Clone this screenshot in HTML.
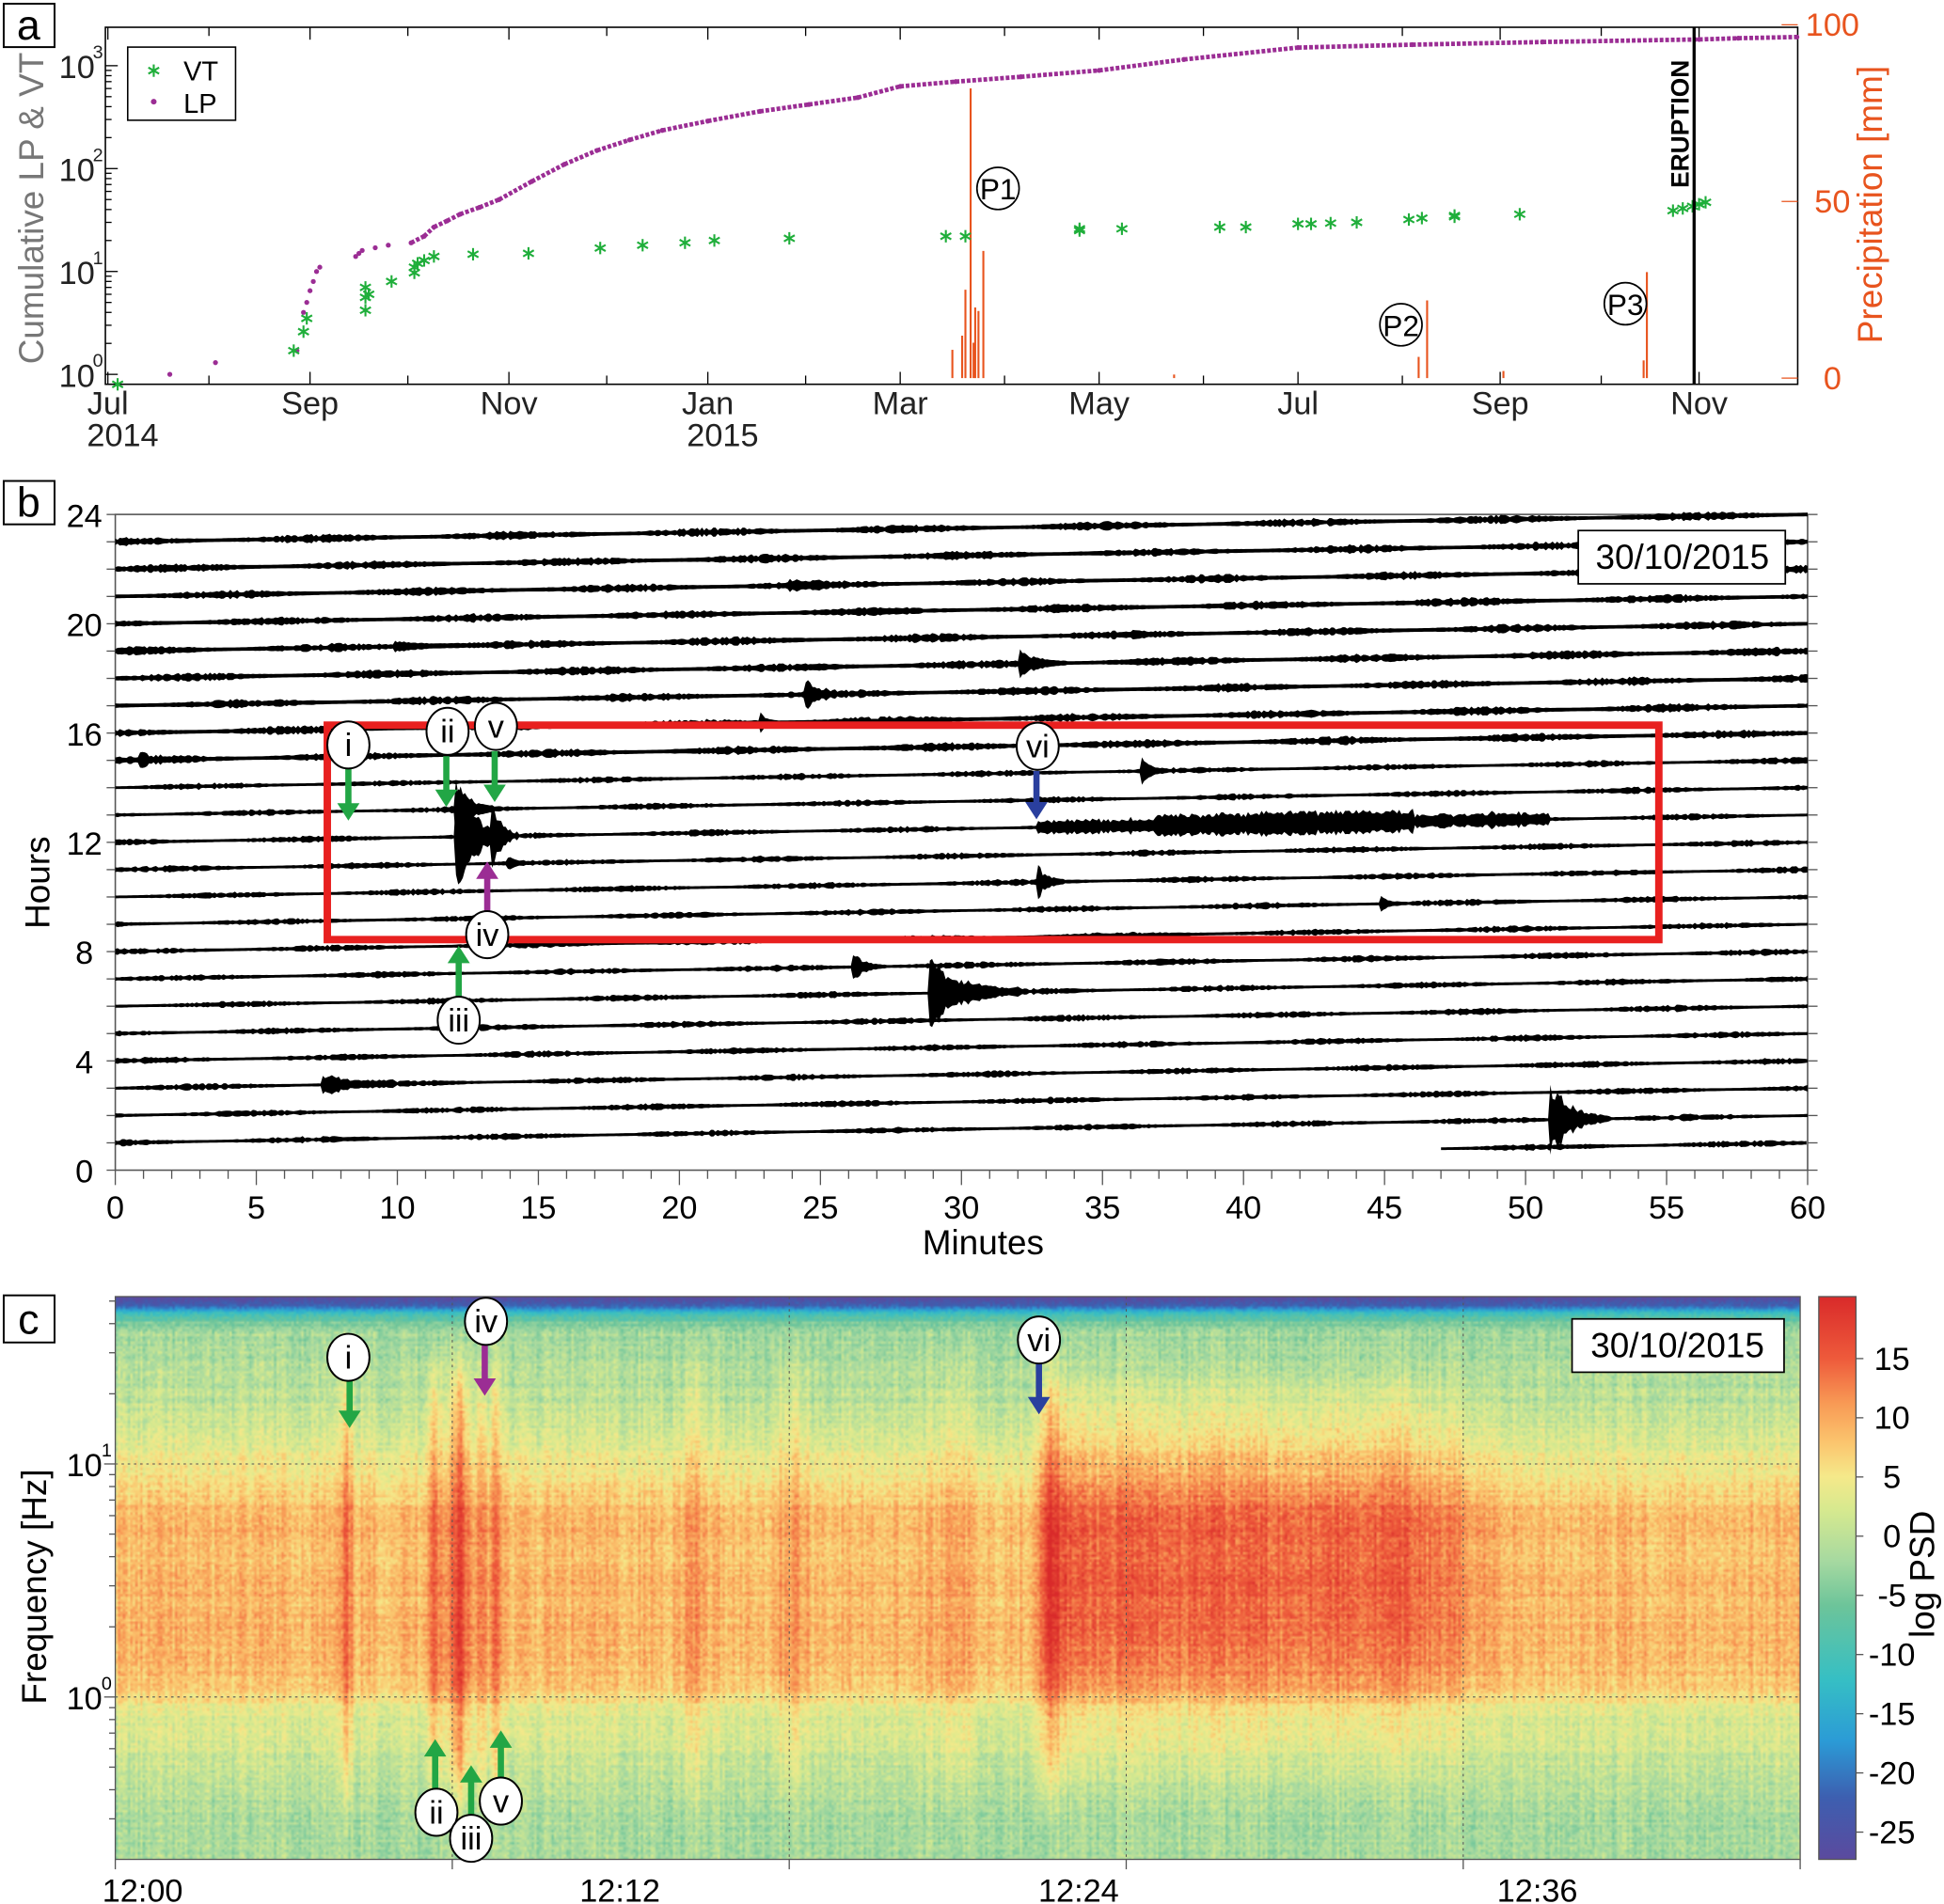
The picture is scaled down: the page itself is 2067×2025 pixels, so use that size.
<!DOCTYPE html>
<html><head><meta charset="utf-8">
<style>
html,body{margin:0;padding:0;background:#fff;}
body{width:2067px;height:2025px;overflow:hidden;position:relative;}
#wrap{position:absolute;left:0;top:0;width:1568px;height:1536px;transform:scale(1.31824,1.31836);transform-origin:0 0;}
#spec{position:absolute;left:93px;top:1046px;width:1359px;height:454px;}
#svg{position:absolute;left:0;top:0;}
text{font-family:"Liberation Sans",sans-serif;}
</style></head>
<body>
<div id="wrap">
<canvas id="spec" width="680" height="227"></canvas>
<svg id="svg" width="1568" height="1536" viewBox="0 0 1568 1536">
<defs>
<linearGradient id="cbar" x1="0" y1="1" x2="0" y2="0">
<stop offset="0" stop-color="#5b4a9e"/><stop offset="0.11" stop-color="#3d5fb0"/><stop offset="0.21" stop-color="#2b9bd6"/><stop offset="0.32" stop-color="#36bfc4"/><stop offset="0.45" stop-color="#6cc49a"/><stop offset="0.53" stop-color="#a6d9a0"/><stop offset="0.62" stop-color="#d6e98f"/><stop offset="0.68" stop-color="#f5e98a"/><stop offset="0.74" stop-color="#fbc56e"/><stop offset="0.81" stop-color="#f89a55"/><stop offset="0.89" stop-color="#ee5a3b"/><stop offset="1" stop-color="#d92a2a"/>
</linearGradient>
</defs>
<g id="pa"></g>
<g id="pb"></g>
<g id="pc"></g>
</svg>
</div>
<script>
// ===== Panel a data =====
const lpDays=[19,33,58,60,61,62,63,64,65,76,77,78,82,86,93,97,100,104,108,114,120,130,140,150,160,170,184,200,215,230,243,260,280,304,330,365,400,440,488,500,518];
const lpCounts=[1,1.3,1.7,4,5,6.5,8,10,11,14,15,16,17,18,19,22,27,31,36,42,50,75,110,150,190,235,290,360,420,490,630,700,780,900,1150,1500,1600,1700,1800,1850,1900];
const vtDays=[3,57,60,61,79,79,79,80,87,94,94,95,97,100,112,129,151,164,177,186,209,257,263,298,298,311,341,349,365,369,375,383,399,403,413,413,433,480,483,486,488,490];
const vtCounts=[0.8,1.7,2.6,3.5,4.2,5.6,7,6,8,9.7,11,12,12.8,14,14.7,15,16.9,18,19,20,21,22,22,25,26,26,27,27,29,29,29.5,30,32,33,34,35,36,39,41,43,45,47];
const rainDays=[259,262,263,264.6,265.5,266,267,268.5,327,402,404.6,428,471,472];
const rainMm=[8,12,25,82,10,20,19,36,1,6,22,2,5,30];
const monthLabels=["Jul","Sep","Nov","Jan","Mar","May","Jul","Sep","Nov"];
const monthDays=[0,62,123,184,243,304,365,427,488];
const yearLabels=["2014","2015"];
const yearDays=[0,184];
const eruptionDay=488;

const NS="http://www.w3.org/2000/svg";
function el(parent,tag,attrs,txt){const e=document.createElementNS(NS,tag);for(const k in attrs)e.setAttribute(k,attrs[k]);if(txt!==undefined)e.textContent=txt;parent.appendChild(e);return e;}
const pa=document.getElementById('pa');
const ax=d=>87+2.63*d, ayLog=v=>302-83*Math.log10(v), ayR=mm=>305-2.85*mm;

let t;
t=el(pa,'rect',{x:3,y:3,width:41,height:35,fill:'#fff',stroke:'#000','stroke-width':1.5});

t=el(pa,'text',{x:23,y:32,'font-size':34,'text-anchor':'middle'},'a');

t=el(pa,'rect',{x:85,y:22,width:1365,height:288,fill:'none',stroke:'#000','stroke-width':1.2});

rainDays.forEach((d,i)=>{const b=el(pa,'line',{x1:ax(d),x2:ax(d),y1:ayR(0),y2:ayR(rainMm[i]),stroke:'#e8541e','stroke-width':1.6});
});
monthDays.forEach((d,i)=>{
 el(pa,'line',{x1:ax(d),x2:ax(d),y1:310,y2:300,stroke:'#000'});
 el(pa,'line',{x1:ax(d),x2:ax(d),y1:22,y2:32,stroke:'#000'});
 t=el(pa,'text',{x:ax(d),y:334,'font-size':26,'text-anchor':'middle',fill:'#222'},monthLabels[i]);
 
});
for(let d=31;d<518;d+=61){el(pa,'line',{x1:ax(d),x2:ax(d),y1:310,y2:303,stroke:'#000'});el(pa,'line',{x1:ax(d),x2:ax(d),y1:22,y2:29,stroke:'#000'});}
yearDays.forEach((d,i)=>{t=el(pa,'text',{x:ax(d)+12,y:360,'font-size':26,'text-anchor':'middle',fill:'#222'},yearLabels[i]);
});
for(let e=0;e<=3;e++){
 const y=ayLog(Math.pow(10,e));
 el(pa,'line',{x1:85,x2:95,y1:y,y2:y,stroke:'#000'});
 t=el(pa,'text',{x:62,y:y+10,'font-size':26,'text-anchor':'middle',fill:'#222'},'10');
 
 el(pa,'text',{x:79,y:y-6,'font-size':15,'text-anchor':'middle',fill:'#222'},String(e));
 if(e<3)for(let m=2;m<10;m++){const yy=ayLog(m*Math.pow(10,e));el(pa,'line',{x1:85,x2:90,y1:yy,y2:yy,stroke:'#000'});}
}
t=el(pa,'text',{x:0,y:0,'font-size':28,'text-anchor':'middle',fill:'#777',transform:'translate(35,168) rotate(-90)'},'Cumulative LP & VT');

[0,50,100].forEach(v=>{const y=ayR(v);el(pa,'line',{x1:1437,x2:1450,y1:y,y2:y,stroke:'#e8541e'});
 t=el(pa,'text',{x:1478,y:y+9,'font-size':26,'text-anchor':'middle',fill:'#e8541e'},String(v));
 });
t=el(pa,'text',{x:0,y:0,'font-size':28,'text-anchor':'middle',fill:'#e8541e',transform:'translate(1518,165) rotate(-90)'},'Precipitation [mm]');

let pts=lpDays.map((d,i)=>[ax(d),ayLog(lpCounts[i])]);
for(let i=1;i<pts.length;i++){if(lpDays[i]-lpDays[i-1]<60&&lpDays[i]>95){const s=el(pa,'line',{x1:pts[i-1][0],y1:pts[i-1][1],x2:pts[i][0],y2:pts[i][1],stroke:'#9b2d94','stroke-width':3.6,'stroke-dasharray':'3 1.5'});}}
pts.forEach(p=>{const c=el(pa,'circle',{cx:p[0],cy:p[1],r:2,fill:'#9b2d94'});});
function star(g,x,y,s,col){const gg=el(g,'g',{stroke:col,'stroke-width':1.6});for(let k=0;k<3;k++){const a=Math.PI/2+k*Math.PI/3;el(gg,'line',{x1:x-s*Math.cos(a),y1:y-s*Math.sin(a),x2:x+s*Math.cos(a),y2:y+s*Math.sin(a)});}return gg;}
vtDays.forEach((d,i)=>{const g=star(pa,ax(d),ayLog(vtCounts[i]),5,'#1fae3a');});
t=el(pa,'line',{x1:ax(eruptionDay)-4,x2:ax(eruptionDay)-4,y1:22,y2:310,stroke:'#000','stroke-width':2.5});

t=el(pa,'text',{x:0,y:0,'font-size':20,'font-weight':'bold','text-anchor':'middle',transform:'translate(1362,100) rotate(-90)'},'ERUPTION');

t=el(pa,'rect',{x:103,y:38,width:87,height:59,fill:'#fff',stroke:'#000','stroke-width':1.2});

t=star(pa,124,57,5,'#1fae3a');
t=el(pa,'text',{x:148,y:65,'font-size':22},'VT');
t=el(pa,'circle',{cx:124,cy:82,r:2.3,fill:'#9b2d94'});
t=el(pa,'text',{x:148,y:91,'font-size':22},'LP');
[['P1',805,152],['P2',1130,262],['P3',1311,245]].forEach(p=>{
 const g=el(pa,'g',{});
 el(g,'circle',{cx:p[1],cy:p[2],r:17,fill:'#fff',stroke:'#000','stroke-width':1.3});
 el(g,'text',{x:p[1],y:p[2]+9,'font-size':24,'text-anchor':'middle'},p[0]);});
</script>
<script>
// ===== Panel b data =====
const hourLabels=["0","4","8","12","16","20","24"];
const minuteLabels=["0","5","10","15","20","25","30","35","40","45","50","55","60"];
const evHour=[3,1,6,7,12,13,12,12,12,10,14,17,18,16,11,9,15,21,19];
const evMinute=[7.5,51,29,26.3,12.2,12.2,13.5,32.8,37,32.8,36.5,24.6,32.2,23,14,45,1,24,10];
const evAmp=[8,28,28,9,40,18,14,5,6,10,7,8,8,4,4,4,3,3,3];
const evDur=[2.5,2,3,1,1.8,1.2,0.8,18,9,0.8,0.6,1,1.5,0.5,0.6,0.6,1,2,3];
const NS2="http://www.w3.org/2000/svg";
function e2(parent,tag,attrs,txt){const e=document.createElementNS(NS2,tag);for(const k in attrs)e.setAttribute(k,attrs[k]);if(txt!==undefined)e.textContent=txt;parent.appendChild(e);return e;}
const pb=document.getElementById('pb');
const bx=m=>93+m*22.75, by=h=>944-h*22.04;
let q;
q=e2(pb,'rect',{x:3,y:388,width:41,height:35,fill:'#fff',stroke:'#000','stroke-width':1.5});
q=e2(pb,'text',{x:23,y:417,'font-size':34,'text-anchor':'middle'},'b');
q=e2(pb,'rect',{x:93,y:415,width:1365,height:529,fill:'none',stroke:'#555','stroke-width':1.2});
for(let h=0;h<=24;h++){const y=by(h);e2(pb,'line',{x1:86,x2:93,y1:y,y2:y,stroke:'#555'});e2(pb,'line',{x1:1458,x2:1466,y1:y,y2:y,stroke:'#555'});}
hourLabels.forEach((l,i)=>{q=e2(pb,'text',{x:68,y:by(i*4)+10,'font-size':26,'text-anchor':'middle'},l);});
for(let m=0;m<=60;m++){const x=bx(m);e2(pb,'line',{x1:x,x2:x,y1:944,y2:m%5==0?956:951,stroke:'#555'});}
minuteLabels.forEach((l,i)=>{q=e2(pb,'text',{x:bx(i*5),y:983,'font-size':26,'text-anchor':'middle'},l);});
q=e2(pb,'text',{x:793,y:1012,'font-size':28,'text-anchor':'middle'},'Minutes');
q=e2(pb,'text',{x:0,y:0,'font-size':28,'text-anchor':'middle',transform:'translate(40,712) rotate(-90)'},'Hours');
let seed=7;function rnd(){seed=(seed*16807)%2147483647;return seed/2147483647;}
for(let h=0;h<=23;h++){
 const start=h==0?47:0;
 let top=[],bot=[];
 const lvl=h>=15?1.3:1.0;
 for(let m=start;m<=60.0001;m+=0.08){
  let a=(1.1+rnd()*1.6*(0.6+0.6*Math.sin(m*0.9+h*1.7)))*lvl;
  evHour.forEach((eh,k)=>{if(eh===h){const dm=m-evMinute[k];if(dm>=-0.15&&dm<=evDur[k]){const env=evDur[k]>5?(0.6+0.4*rnd()):Math.exp(-dm/(evDur[k]*0.35));a+=evAmp[k]*env*(0.5+0.5*rnd());}}});
  const yc=by(h)-(m/60)*22.04;
  top.push(bx(m).toFixed(1)+','+(yc-a).toFixed(1));bot.push(bx(m).toFixed(1)+','+(yc+a).toFixed(1));
 }
 q=e2(pb,'polygon',{points:top.concat(bot.reverse()).join(' '),fill:'#000'});
 
}
q=e2(pb,'rect',{x:264,y:585,width:1074,height:173,fill:'none',stroke:'#e8201f','stroke-width':6});
q=e2(pb,'rect',{x:1273,y:428,width:167,height:43,fill:'#fff',stroke:'#000','stroke-width':1.3});
q=e2(pb,'text',{x:1357,y:459,'font-size':28,'text-anchor':'middle'},'30/10/2015');
function arrow(g,x,y1,y2,col){const dir=y2>y1?1:-1;e2(g,'line',{x1:x,x2:x,y1:y1,y2:y2-dir*10,stroke:col,'stroke-width':5});e2(g,'polygon',{points:`${x-9},${y2-dir*14} ${x+9},${y2-dir*14} ${x},${y2}`,fill:col});}
function lab(g,x,y,s,name){const gg=e2(g,'g',{});e2(gg,'ellipse',{cx:x,cy:y,rx:17,ry:19,fill:'#fff',stroke:'#000','stroke-width':1.5});e2(gg,'text',{x:x,y:y+9,'font-size':26,'text-anchor':'middle'},s);}
const G='#22a645',P='#9b2d94',B='#2a3f9e';
[[281,620,662,G,'arrow-i-b'],[360,610,651,G,'arrow-ii-b'],[399,606,647,G,'arrow-v-b'],[836,622,661,B,'arrow-vi-b'],[393,738,695,P,'arrow-iv-b'],[370,805,763,G,'arrow-iii-b']].forEach(a=>{const g=e2(pb,'g',{});arrow(g,a[0],a[1],a[2],a[3]);});
lab(pb,281,601,'i','label-i-b');lab(pb,361,590,'ii','label-ii-b');lab(pb,400,586,'v','label-v-b');lab(pb,837,602,'vi','label-vi-b');lab(pb,393,754,'iv','label-iv-b');lab(pb,370,823,'iii','label-iii-b');

// ===== Panel c =====
const pc=document.getElementById('pc');
const timeLabels=["12:00","12:12","12:24","12:36"];
const timeLabelX=[115,500,870,1240];
const gridMinutes=[12,24,36,48];
const cbarTicks=[15,10,5,0,-5,-10,-15,-20,-25];
const specEvMin=[8.2,11.3,12.2,13.0,13.5,20.5,24,29.8,33.2];
const specEvAmp=[5,6,9,5,5,2.5,2.5,2.5,5];
const specEvW=[0.2,0.25,0.35,0.2,0.2,0.4,0.5,0.5,0.5];
const tremorStart=32.8, tremorEnd=50, tremorAmp=6;
const cx=m=>93+m*22.65, cy=v=>1096+(15-v)*9.55;
q=e2(pc,'rect',{x:3,y:1045,width:41,height:38,fill:'#fff',stroke:'#000','stroke-width':1.5});
q=e2(pc,'text',{x:23,y:1076,'font-size':34,'text-anchor':'middle'},'c');
gridMinutes.forEach(m=>{q=e2(pc,'line',{x1:cx(m),x2:cx(m),y1:1046,y2:1500,stroke:'#555','stroke-dasharray':'2 3','stroke-width':0.8});});
[1181,1369].forEach(y=>{q=e2(pc,'line',{x1:93,x2:1452,y1:y,y2:y,stroke:'#555','stroke-dasharray':'2 3','stroke-width':0.8});});
q=e2(pc,'rect',{x:93,y:1046,width:1359,height:454,fill:'none',stroke:'#555','stroke-width':1});
[0,12,24,36,48,60].forEach(m=>{e2(pc,'line',{x1:cx(m),x2:cx(m),y1:1500,y2:1508,stroke:'#555'});});
timeLabels.forEach((l,i)=>{q=e2(pc,'text',{x:timeLabelX[i],y:1534,'font-size':26,'text-anchor':'middle'},l);});
[[1181,'1'],[1369,'0']].forEach(a=>{e2(pc,'line',{x1:84,x2:93,y1:a[0],y2:a[0],stroke:'#555'});q=e2(pc,'text',{x:68,y:a[0]+10,'font-size':26,'text-anchor':'middle'},'10');e2(pc,'text',{x:86,y:a[0]-6,'font-size':15,'text-anchor':'middle'},a[1]);});
for(let d=-1;d<=1;d++)for(let m=2;m<10;m++){const y=1369-188*(d+Math.log10(m));if(y>1046&&y<1500)e2(pc,'line',{x1:88,x2:93,y1:y,y2:y,stroke:'#555'});}
q=e2(pc,'text',{x:0,y:0,'font-size':28,'text-anchor':'middle',transform:'translate(37,1280) rotate(-90)'},'Frequency [Hz]');
q=e2(pc,'rect',{x:1467,y:1046,width:30,height:454,fill:'url(#cbar)',stroke:'#555','stroke-width':1});
cbarTicks.forEach(v=>{e2(pc,'line',{x1:1497,x2:1503,y1:cy(v),y2:cy(v),stroke:'#555'});q=e2(pc,'text',{x:1526,y:cy(v)+9,'font-size':26,'text-anchor':'middle'},String(v));});
q=e2(pc,'text',{x:0,y:0,'font-size':28,'text-anchor':'middle',transform:'translate(1560,1270) rotate(-90)'},'log PSD');
q=e2(pc,'rect',{x:1268,y:1064,width:171,height:43,fill:'#fff',stroke:'#000','stroke-width':1.3});
q=e2(pc,'text',{x:1353,y:1095,'font-size':28,'text-anchor':'middle'},'30/10/2015');
[[282,1112,1152,G,'arrow-i-c'],[391,1083,1126,P,'arrow-iv-c'],[838,1100,1141,B,'arrow-vi-c'],[351,1445,1403,G,'arrow-ii-c'],[380,1466,1424,G,'arrow-iii-c'],[404,1437,1396,G,'arrow-v-c']].forEach(a=>{const g=e2(pc,'g',{});arrow(g,a[0],a[1],a[2],a[3]);});
lab(pc,281,1095,'i','label-i-c');lab(pc,392,1066,'iv','label-iv-c');lab(pc,838,1081,'vi','label-vi-c');lab(pc,352,1462,'ii','label-ii-c');lab(pc,380,1483,'iii','label-iii-c');lab(pc,404,1453,'v','label-v-c');

const cmapV=[-27,-22,-17,-12,-6,-2,2,5,8,11,15,20];
const cmapC=[[91,74,158],[61,95,176],[43,155,214],[54,191,196],[108,196,154],[166,217,160],[214,233,143],[245,233,138],[251,197,110],[248,154,85],[238,90,59],[217,42,42]];
function cmap(v){if(v<=cmapV[0])return cmapC[0];for(let i=1;i<cmapV.length;i++){if(v<=cmapV[i]){const f=(v-cmapV[i-1])/(cmapV[i]-cmapV[i-1]);return cmapC[i].map((c,k)=>cmapC[i-1][k]+(c-cmapC[i-1][k])*f);}}return cmapC[cmapC.length-1];}
const baseY=[1046,1052,1058,1066,1075,1100,1130,1160,1185,1220,1300,1360,1380,1420,1450,1500];
const baseV=[-27,-22,-12,-5,-2,-1,0,2,5,8.5,9,8,3,1,-1,-2];
function base(y){for(let i=1;i<baseY.length;i++)if(y<=baseY[i]){const f=(y-baseY[i-1])/(baseY[i]-baseY[i-1]);return baseV[i-1]+(baseV[i]-baseV[i-1])*f;}return baseV[baseV.length-1];}
const cv=document.getElementById('spec'),ctx=cv.getContext('2d'),img=ctx.createImageData(680,227);
let s2=11;function r2(){s2=(s2*48271)%2147483647;return s2/2147483647;}
const colN=[];for(let c=0;c<680;c++)colN.push((r2()-0.5)*3.5);
const rowN=[];for(let r=0;r<227;r++)rowN.push((r2()-0.5)*2);
for(let r=0;r<227;r++){const y=1046+r*2;const b=base(y);
 for(let c=0;c<680;c++){const m=c*60/680;let v=b+colN[c]*(y>1070?1:0)+rowN[r]+(r2()-0.5)*4;
  if(y>1070){
   const w=Math.min(1,(y-1070)/60)*(y<1420?1:Math.max(0,1-(y-1420)/60));
   specEvMin.forEach((em,k)=>{const d=(m-em)/specEvW[k];v+=specEvAmp[k]*w*Math.exp(-d*d);});
   if(m>tremorStart&&m<tremorEnd&&y>1110&&y<1440){const tw=Math.exp(-Math.pow((y-1255)/130,2))*Math.min(1,(m-tremorStart)*3)*(m>46?Math.max(0,1-(m-46)/4):1);v+=tremorAmp*tw*(0.8+0.4*r2());}
  }
  const col=cmap(v),o=(r*680+c)*4;img.data[o]=col[0];img.data[o+1]=col[1];img.data[o+2]=col[2];img.data[o+3]=255;}}
ctx.putImageData(img,0,0);
</script>
</body></html>
